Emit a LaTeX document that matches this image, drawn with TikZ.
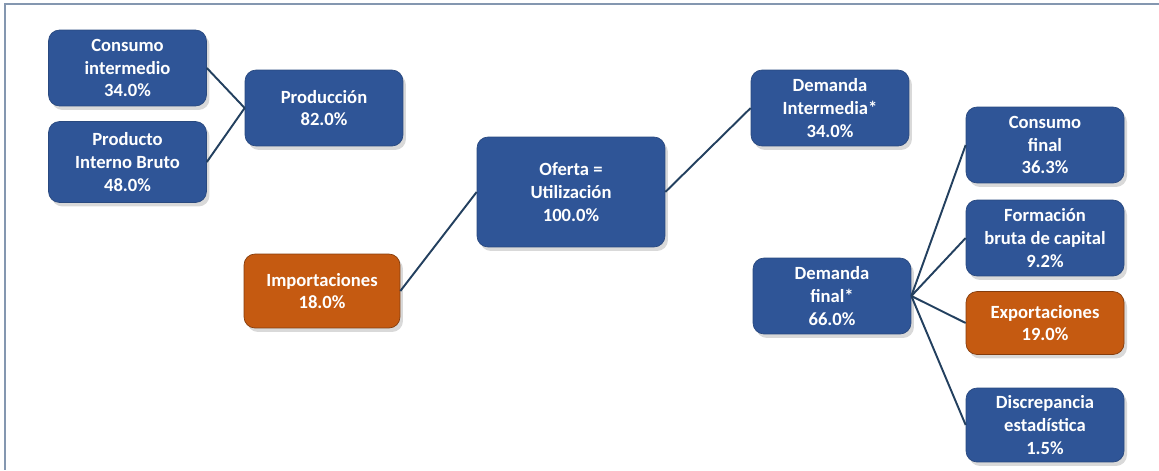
\documentclass[tikz,border=0pt]{standalone}
\usepackage{fontspec}
\setmainfont{Carlito}
\usepackage{xcolor}
\definecolor{Navy}{HTML}{2F5597}
\definecolor{NavyEdge}{HTML}{29497F}
\definecolor{Rust}{HTML}{C55A11}
\definecolor{RustEdge}{HTML}{843C0C}
\definecolor{Wire}{HTML}{23405F}
\definecolor{Frame}{HTML}{8497B0}
\usepackage{tikz}
\usetikzlibrary{positioning,shadows}

\begin{document}
\begin{tikzpicture}[
  x=0.02cm,y=-0.02cm,
  font=\bfseries\fontsize{10.6}{13}\selectfont,
  block/.style={rounded corners=2.2mm,draw=NavyEdge,fill=Navy,text=white,
    minimum width=3.16cm,minimum height=1.52cm,align=center,inner sep=1pt,
    drop shadow={opacity=0.3,shadow xshift=0.6mm,shadow yshift=-0.8mm}},
  trade/.style={block,draw=RustEdge,fill=Rust},
  link/.style={line width=1.1pt,draw=Wire}
]
\useasboundingbox (0,0) rectangle (1159,470);
\draw[Frame,line width=1.2pt] (1159,4) -- (5,4) -- (5,470);

% origen de la oferta
\node[block] (ci) at (127.5,68) {Consumo\\intermedio\\34.0\%};
\node[block,minimum height=1.62cm] (pib) at (127.5,162) {Producto\\Interno Bruto\\48.0\%};
\node[block] (prod) at (324,108) {Producción\\82.0\%};
\node[trade,minimum width=3.12cm,minimum height=1.48cm] (imp) at (322,291) {Importaciones\\18.0\%};
\node[block,minimum width=3.76cm,minimum height=2.2cm] (oferta) at (571,192) {Oferta =\\Utilización\\100.0\%};

% destino
\node[block] (dint) at (830,108) {Demanda\\Intermedia*\\34.0\%};
\node[block] (dfin) at (832,296) {Demanda\\final*\\66.0\%};
\node[block] (cf) at (1045,145) {Consumo\\final\\36.3\%};
\node[block] (fbk) at (1045,238) {Formación\\bruta de capital\\9.2\%};
\node[trade,minimum height=1.26cm] (exp) at (1045,323) {Exportaciones\\19.0\%};
\node[block,minimum height=1.48cm] (disc) at (1045,425) {Discrepancia\\estadística\\1.5\%};

\draw[link] (ci.east) -- (prod.west);
\draw[link] (pib.east) -- (prod.west);
\draw[link] (imp.east) -- (oferta.west);
\draw[link] (oferta.east) -- (dint.west);
\draw[link] (dfin.east) -- (cf.west);
\draw[link] (dfin.east) -- (fbk.west);
\draw[link] (dfin.east) -- (exp.west);
\draw[link] (dfin.east) -- (disc.west);
\end{tikzpicture}
\end{document}
